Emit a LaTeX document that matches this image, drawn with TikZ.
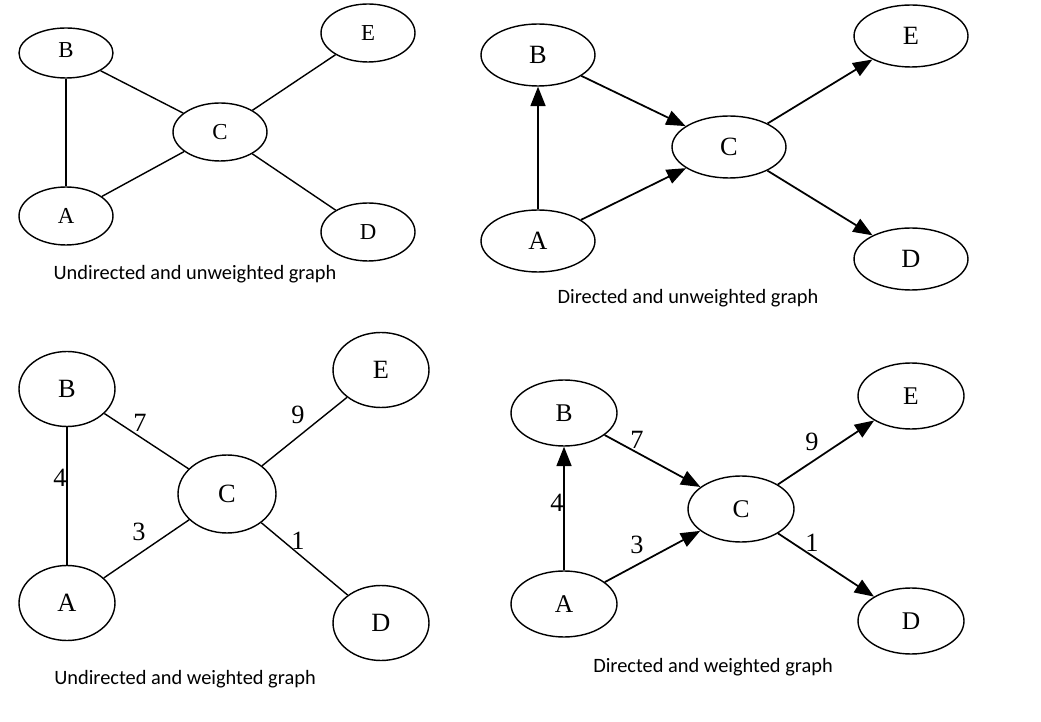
\documentclass[tikz,border=0pt]{standalone}
\usepackage{fontspec}
\setmainfont{Liberation Serif}
\newfontfamily\capfont{Carlito}
\usetikzlibrary{shapes.geometric,arrows.meta}
\tikzstyle{vertex}=[draw=black,ellipse,inner sep=0pt,line width=0.8pt]
\tikzstyle{vsmall}=[vertex,minimum width=1.88cm,minimum height=1.16cm,font=\fontsize{13}{15}\selectfont]
\tikzstyle{vwide}=[vertex,minimum width=2.28cm,minimum height=1.24cm,font=\fontsize{15}{17}\selectfont]
\tikzstyle{vround}=[vertex,minimum width=1.92cm,minimum height=1.5cm,font=\fontsize{15}{17}\selectfont]
\tikzstyle{vmid}=[vertex,minimum width=2.12cm,minimum height=1.32cm,font=\fontsize{14.5}{17}\selectfont]
\tikzstyle{weight}=[inner sep=0pt,font=\fontsize{15}{17}\selectfont]
\tikzstyle{caption}=[inner sep=0pt,font=\capfont\fontsize{11.6}{14}\selectfont]
\tikzstyle{edge}=[line width=0.8pt]
\tikzstyle{arc}=[line width=1pt,-{Triangle[length=11pt,width=8.5pt]}]

\begin{document}
\begin{tikzpicture}[x=0.02cm,y=-0.02cm]
  \useasboundingbox (0,0) rectangle (1041,722);

  % undirected and unweighted
  \node[vsmall,minimum height=1.0cm] (B1) at (66,53) {\raisebox{3pt}{B}};
  \node[vsmall] (E1) at (368,33) {E};
  \node[vsmall] (C1) at (220,132) {C};
  \node[vsmall] (A1) at (66,216) {A};
  \node[vsmall] (D1) at (368,232) {D};
  \draw[edge] (B1) -- (A1);
  \draw[edge] (B1) -- (C1);
  \draw[edge] (A1) -- (C1);
  \draw[edge] (C1) -- (E1);
  \draw[edge] (C1) -- (D1);
  \node[caption] (cap1) at (195,274) {Undirected and unweighted graph};

  % directed and unweighted
  \node[vwide] (B2) at (538,55) {B};
  \node[vwide] (E2) at (911,36) {E};
  \node[vwide] (C2) at (729,147) {C};
  \node[vwide] (A2) at (538,241) {A};
  \node[vwide] (D2) at (911,259) {D};
  \draw[arc] (A2) -- (B2);
  \draw[arc] (B2) -- (C2);
  \draw[arc] (A2) -- (C2);
  \draw[arc] (C2) -- (E2);
  \draw[arc] (C2) -- (D2);
  \node[caption] (cap2) at (688,298) {Directed and unweighted graph};

  % undirected and weighted
  \node[vround] (B3) at (67,389) {B};
  \node[vround] (E3) at (381,370) {E};
  \node[vround,minimum width=1.96cm,minimum height=1.56cm] (C3) at (227,494) {C};
  \node[vround] (A3) at (67,603) {A};
  \node[vround] (D3) at (381,623) {D};
  \draw[edge] (B3) -- (A3);
  \draw[edge] (B3) -- (C3);
  \draw[edge] (A3) -- (C3);
  \draw[edge] (C3) -- (E3);
  \draw[edge] (C3) -- (D3);
  \node[weight] (w4a) at (60,478) {4};
  \node[weight] (w7a) at (140,423) {7};
  \node[weight] (w3a) at (139,532) {3};
  \node[weight] (w9a) at (298,415) {9};
  \node[weight] (w1a) at (298,541) {1};
  \node[caption] (cap3) at (185,679) {Undirected and weighted graph};

  % directed and weighted
  \node[vmid] (B4) at (564,413) {B};
  \node[vmid] (E4) at (911,396) {E};
  \node[vmid] (C4) at (741,509) {C};
  \node[vmid] (A4) at (564,604) {A};
  \node[vmid] (D4) at (911,621) {D};
  \draw[arc] (A4) -- (B4);
  \draw[arc] (B4) -- (C4);
  \draw[arc] (A4) -- (C4);
  \draw[arc] (C4) -- (E4);
  \draw[arc] (C4) -- (D4);
  \node[weight] (w4b) at (557,503) {4};
  \node[weight] (w7b) at (637,440) {7};
  \node[weight] (w3b) at (637,545) {3};
  \node[weight] (w9b) at (812,442) {9};
  \node[weight] (w1b) at (812,543) {1};
  \node[caption] (cap4) at (713,667) {Directed and weighted graph};
\end{tikzpicture}
\end{document}
